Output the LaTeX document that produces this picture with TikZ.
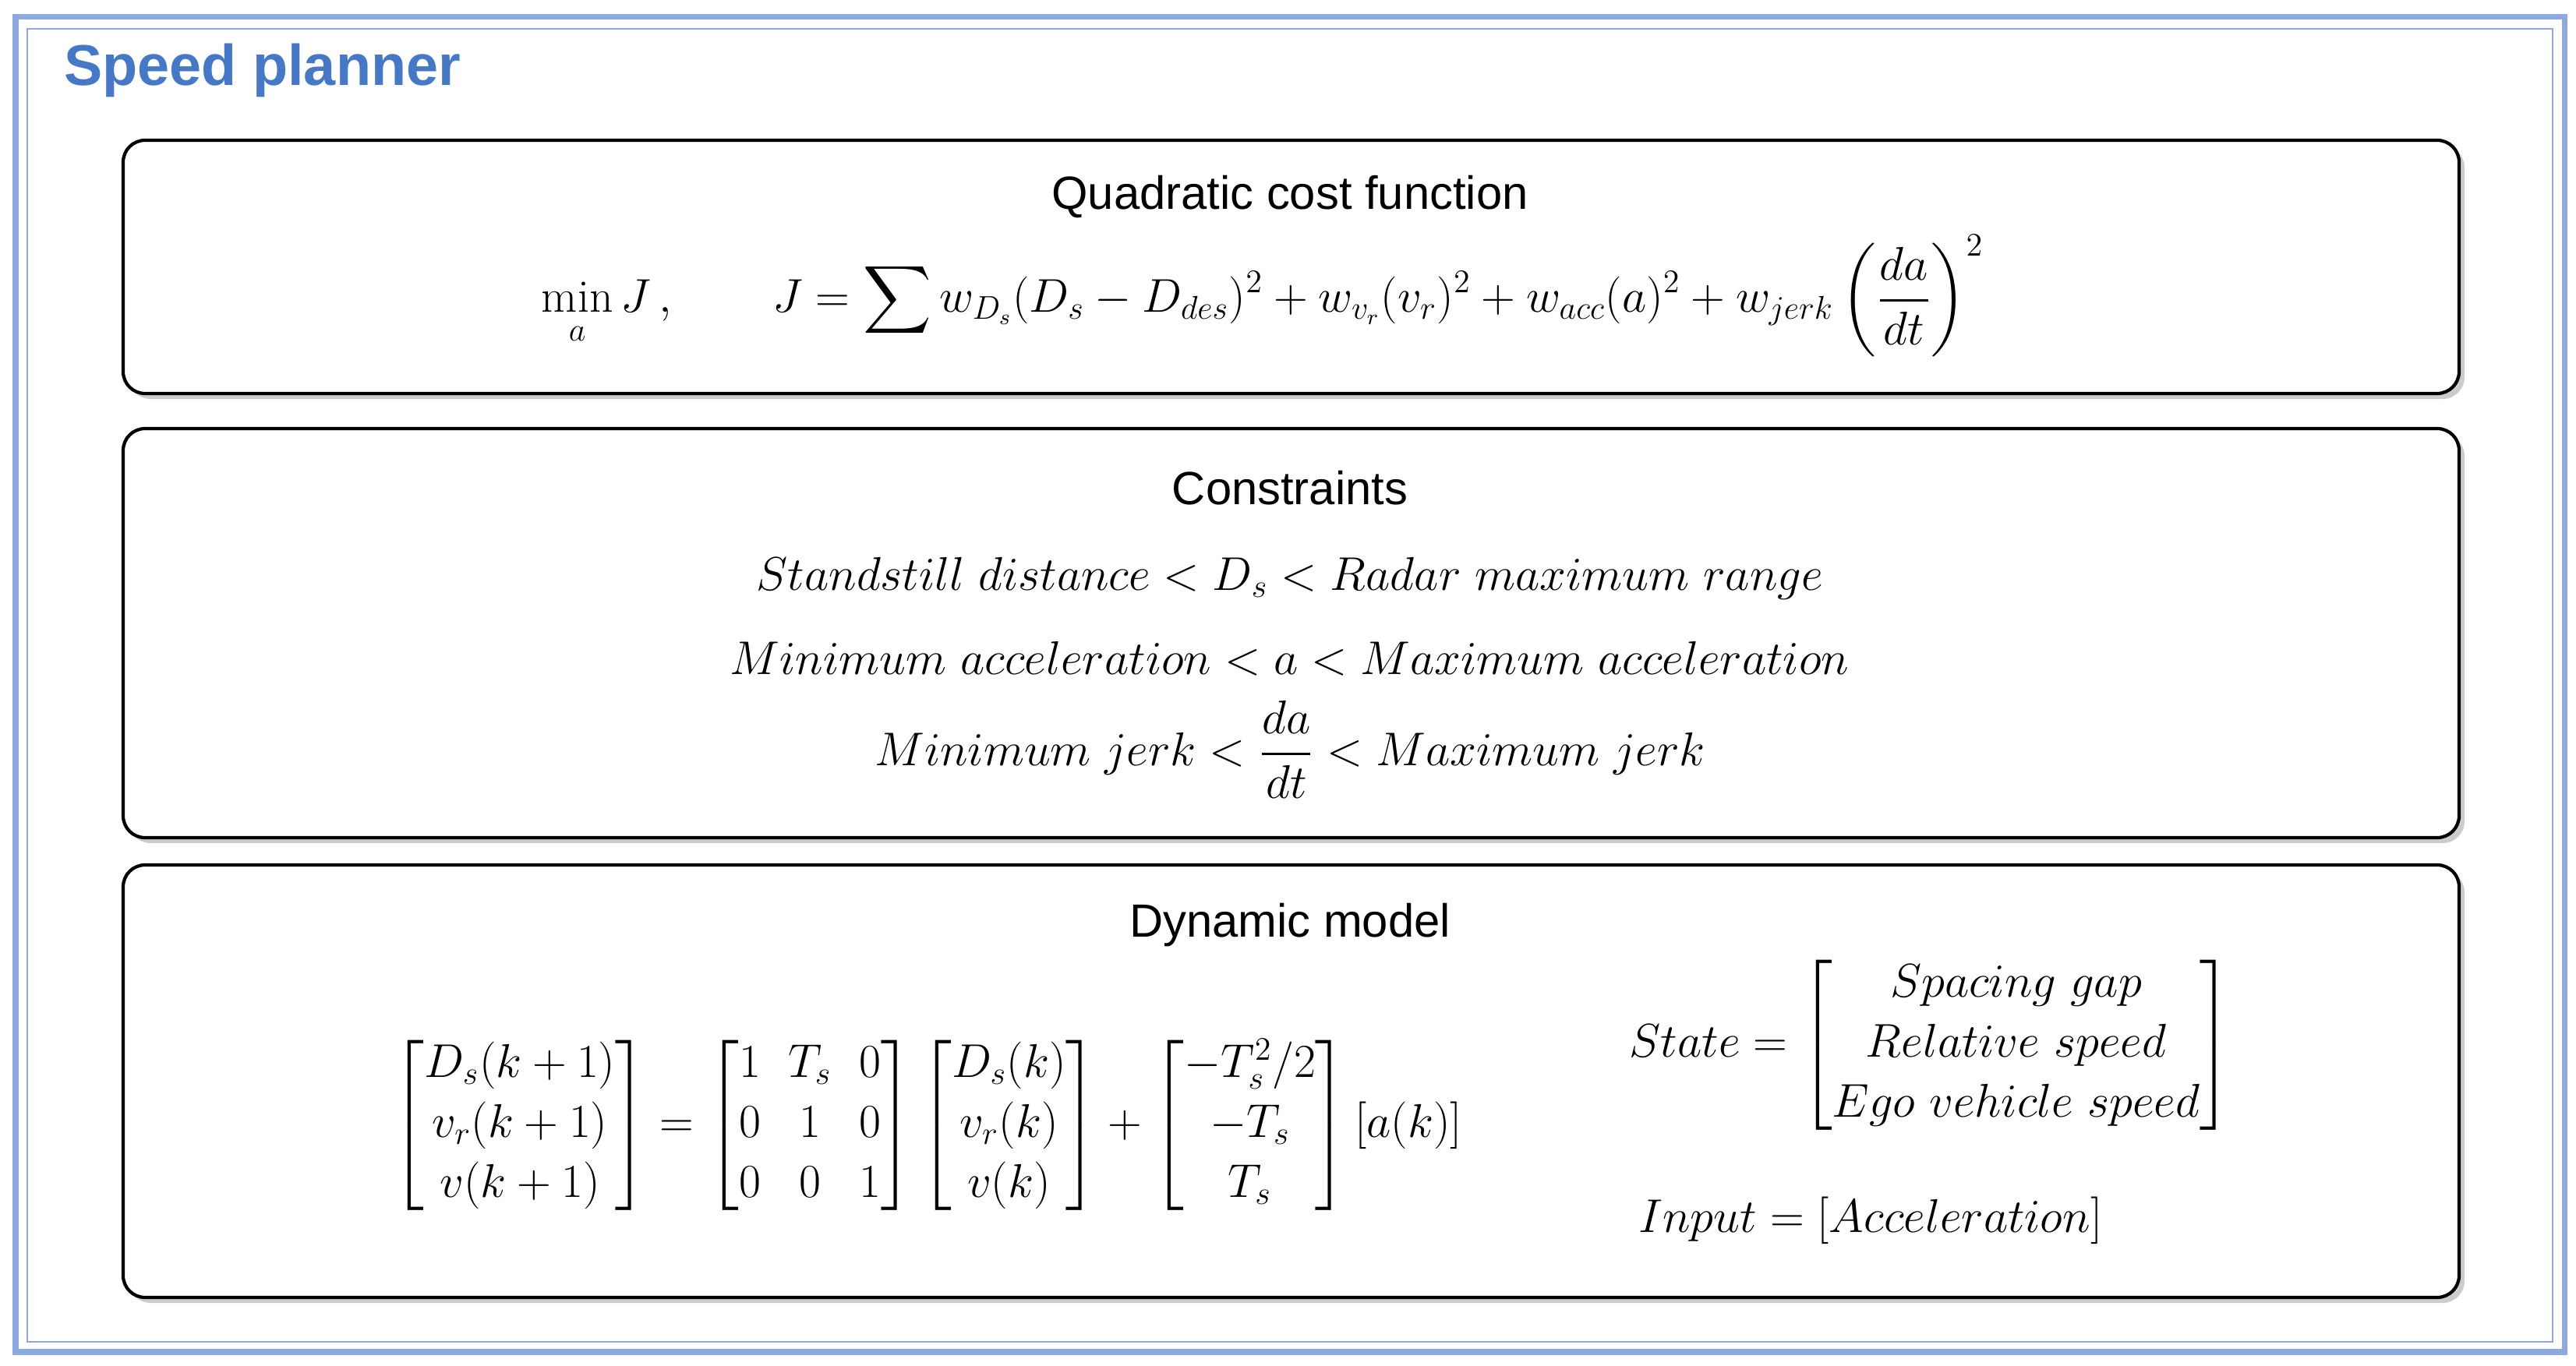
\documentclass[tikz,border=0pt]{standalone}
\usepackage{amsmath}
\usepackage{fontspec}
\newfontfamily\sansfont{Liberation Sans}
\usetikzlibrary{shadows}
\definecolor{plannerblue}{RGB}{70,120,200}
\definecolor{frameblue}{RGB}{140,170,225}
\tikzset{
  panel/.style={draw, very thick, rounded corners=8pt, fill=white, drop shadow={shadow xshift=2pt, shadow yshift=-2pt, opacity=0.4}},
  heading/.style={font=\sansfont\fontsize{17}{20}\selectfont},
  eq/.style={font=\fontsize{17}{22}\selectfont}
}
\begin{document}
\begin{tikzpicture}
        \useasboundingbox (0, 0) rectangle (33.05, 17.52);
        \draw[frameblue, line width=2pt] (0.2, 0.17) rectangle (32.9, 17.3);
        \draw[frameblue, line width=0.8pt] (0.35, 0.3) rectangle (32.75, 17.15);
        \node[anchor=west, text=plannerblue, font=\sansfont\fontsize{21}{24}\selectfont\bfseries] (title) at (0.7, 16.62) {Speed planner};
        % panels
        \draw[panel] (1.58, 12.47) rectangle (31.55, 15.72);
        \draw[panel] (1.58, 6.77) rectangle (31.55, 12.02);
        \draw[panel] (1.58, 0.87) rectangle (31.55, 6.42);
        % cost
        \node[heading] (costtitle) at (16.55, 14.99) {Quadratic cost function};
        \node[eq] (cost) at (16.2, 13.72) {$\displaystyle \min_a J\,,\qquad J=\sum w_{D_s}(D_s-D_{des})^2+w_{v_r}(v_r)^2+w_{acc}(a)^2+w_{jerk}\left(\frac{da}{dt}\right)^{2}$};
        % constraints
        \node[heading] (constitle) at (16.55, 11.26) {Constraints};
        \node[eq] (consa) at (16.55, 10.1) {$Standstill\ distance<D_s<Radar\ maximum\ range$};
        \node[eq] (consb) at (16.55, 9.07) {$Minimum\ acceleration<a<Maximum\ acceleration$};
        \node[eq] (consc) at (16.55, 7.9) {$\displaystyle Minimum\ jerk<\frac{da}{dt}<Maximum\ jerk$};
        % model
        \node[heading] (modeltitle) at (16.55, 5.65) {Dynamic model};
        \node[eq] (model) at (11.9, 3.08) {$\begin{bmatrix}D_s(k+1)\\ v_r(k+1)\\ v(k+1)\end{bmatrix}=\begin{bmatrix}1 & T_s & 0\\ 0 & 1 & 0\\ 0 & 0 & 1\end{bmatrix}\begin{bmatrix}D_s(k)\\ v_r(k)\\ v(k)\end{bmatrix}+\begin{bmatrix}-T_s^2/2\\ -T_s\\ T_s\end{bmatrix}[a(k)]$};
        \node[eq] (state) at (24.77, 4.11) {$State=\begin{bmatrix}Spacing\ gap\\ Relative\ speed\\ Ego\ vehicle\ speed\end{bmatrix}$};
        \node[eq] (input) at (24.0, 1.86) {$Input=[Acceleration]$};
\end{tikzpicture}
\end{document}
